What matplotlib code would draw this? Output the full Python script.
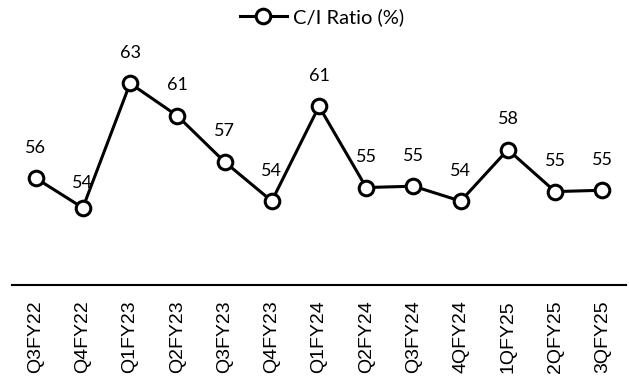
import matplotlib
matplotlib.use("Agg")
import matplotlib.pyplot as plt

# quarters and cost-to-income ratio (%)
quarters = ["Q3FY22", "Q4FY22", "Q1FY23", "Q2FY23", "Q3FY23", "Q4FY23", "Q1FY24",
            "Q2FY24", "Q3FY24", "4QFY24", "1QFY25", "2QFY25", "3QFY25"]
ci_ratio = [56.0, 53.8, 63.0, 60.6, 57.2, 54.3, 61.3, 55.3, 55.4, 54.3, 58.1, 55.0, 55.1]

fig = plt.figure(figsize=(6.29, 3.92), dpi=100)
ax = fig.add_axes([12 / 629, 107 / 392, 614 / 629, 245 / 392])

x = range(len(quarters))
line, = ax.plot(x, ci_ratio, color="black", lw=2.2, marker="o", ms=10.5,
                mfc="white", mec="black", mew=2.2, label="C/I Ratio (%)",
                clip_on=False, zorder=3)

# value labels above the points
for i, v in enumerate(ci_ratio):
    dy = 18 if i == 1 else 22
    ax.annotate(f"{v:.0f}", (i, v), xytext=(0, dy), textcoords="offset points",
                ha="center", va="center", fontsize=13, family="Lato")

ax.set_xlim(-0.5, len(quarters) - 0.5)
ax.set_ylim(48.1, 66.2)
ax.set_xticks(list(x))
ax.set_xticklabels(quarters, rotation=90, fontsize=14, family="Liberation Sans")
ax.tick_params(axis="x", length=0, pad=11)
ax.set_yticks([])
for s in ["left", "right", "top"]:
    ax.spines[s].set_visible(False)
ax.spines["bottom"].set_linewidth(1.5)

fig.legend(handles=[line], loc="center", bbox_to_anchor=(322 / 629, 1 - 17 / 392),
           frameon=False, prop={"family": "Lato", "size": 14.5},
           handlelength=2.3, handletextpad=0.3)

fig.savefig("out.png", dpi=100)
